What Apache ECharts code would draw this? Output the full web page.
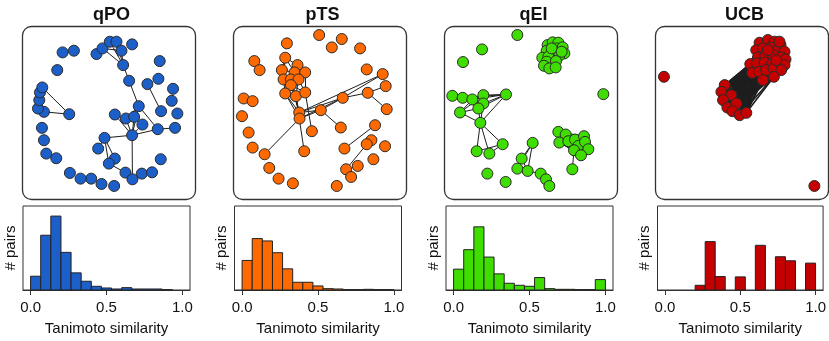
<!DOCTYPE html>
<html>
<head>
<meta charset="utf-8">
<title>Tanimoto similarity networks</title>
<script src="https://cdn.jsdelivr.net/npm/echarts@6/dist/echarts.min.js"></script>
</head>
<body style="margin:0">
<div id="main" style="width:829px;height:341px;"></div>
<script>
// panel names and colours
var methods = ['qPO', 'pTS', 'qEI', 'UCB'];
var colors = ['#1c5fc8', '#ff6a00', '#3fdd00', '#c40000'];

// histogram: 15 bins over [0, 1], counts in arbitrary units (no y ticks)
var binEdges = [0, 1/15, 2/15, 3/15, 4/15, 5/15, 6/15, 7/15, 8/15, 9/15, 10/15, 11/15, 12/15, 13/15, 14/15, 1];
var countsQPO = [41, 163, 220, 112, 51, 26, 11, 6, 3, 7, 3, 3, 3, 1, 0];
var countsPTS = [88, 153, 146, 111, 63, 23, 23, 12, 4, 3, 1, 1, 2, 1, 1];
var countsQEI = [62, 120, 188, 98, 48, 20, 14, 11, 37, 4, 2, 2, 1, 1, 31];
var countsUCB = [0, 0, 0, 14, 144, 40, 0, 39, 0, 133, 0, 99, 87, 0, 80];
var xTicks = [0, 0.5, 1];

// network layouts (node positions in layout units, edges 1-based)
var nodesQPO = [[188,157],[222,152],[172,210],[290,162],[308,145],[330,125],[350,125],[365,152],[397,133],[370,195],
  [388,242],[480,183],[476,236],[443,252],[520,266],[516,302],[533,340],[484,333],[417,318],[345,343],
  [378,355],[403,350],[428,373],[474,387],[526,383],[397,405],[314,413],[295,445],[345,475],[327,490],
  [483,477],[377,517],[398,537],[426,520],[457,516],[343,557],[305,551],[274,535],[242,535],[210,518],
  [169,474],[139,460],[132,420],[126,383],[208,342],[132,335],[114,325],[118,300],[120,277],[127,262]];
var edgesQPO = [[5,10],[5,8],[6,8],[7,8],[6,10],[7,10],[8,10],[10,11],[11,19],[26,19],[26,20],[26,21],[26,22],
  [26,23],[26,24],[26,27],[26,33],[19,24],[19,21],[24,25],[14,18],[27,28],[27,29],[27,30],[29,30],[30,32],
  [50,45],[46,45],[50,47]];
var cliquesQPO = [];

var nodesPTS = [[327,105],[395,117],[365,142],[450,145],[230,130],[132,183],[148,210],[225,173],[262,195],[215,210],
  [253,217],[285,217],[220,238],[242,238],[265,238],[242,255],[225,280],[257,288],[285,277],[470,208],
  [518,222],[527,258],[473,278],[398,293],[530,327],[100,295],[127,303],[95,348],[267,337],[268,355],
  [332,330],[305,393],[392,382],[495,375],[115,397],[484,420],[470,432],[525,438],[403,445],[127,442],
  [163,462],[282,453],[490,477],[443,497],[408,507],[423,530],[177,503],[205,535],[248,549],[380,557]];
var edgesPTS = [[8,9],[8,10],[8,11],[8,13],[9,11],[9,12],[9,14],[10,13],[10,11],[11,12],[11,14],[11,15],[12,15],
  [12,19],[13,14],[13,16],[13,17],[14,15],[14,16],[15,16],[15,18],[16,17],[16,18],[17,18],[18,19],[15,19],
  [16,19],[9,15],[10,16],[14,18],[17,29],[18,29],[16,29],[17,30],[18,30],[19,32],[18,42],[29,24],[30,24],
  [29,31],[30,31],[29,21],[31,24],[24,21],[24,23],[23,22],[23,25],[31,33],[30,41],[34,39],[37,45]];
var cliquesPTS = [];

var nodesQEI = [[292,105],[186,148],[129,186],[550,282],
  [383,135],[398,127],[415,128],[410,145],[428,142],[380,152],[398,160],[433,160],[367,173],[385,170],
  [418,167],[380,185],[408,183],[372,197],[388,205],[407,202],[395,145],[425,155],
  [97,287],[128,293],[157,298],[190,285],[258,283],[190,310],[175,325],[120,337],[181,368],[170,453],
  [208,460],[248,432],
  [338,428],[305,475],[292,505],[323,512],[362,520],[378,537],[388,557],
  [415,395],[437,403],[418,427],[445,423],[465,418],[492,408],[475,437],[495,425],[505,447],[462,450],
  [483,465],[457,507],
  [202,520],[257,545]];
var edgesQEI = [[23,24],[24,25],[25,26],[26,27],[24,27],[25,27],[28,27],[29,27],[24,29],[25,29],[30,26],[30,25],
  [30,29],[30,31],[29,31],[28,31],[27,31],[31,32],[31,33],[31,34],[32,34],[33,34],[25,28],[26,28],[24,28],
  [35,36],[35,37],[35,38],[36,37],[36,38],[37,38],[38,39],[39,40],[40,41],[51,53]];
var cliquesQEI = [[5,22],[42,52]];

var nodesUCB = [[132,230],[585,557],
  [420,128],[445,120],[465,125],[483,135],[410,150],[430,145],[455,143],[475,150],[495,155],[415,172],
  [437,168],[460,165],[485,172],[498,178],[392,192],[412,190],[435,188],[458,190],[480,195],[495,195],
  [398,218],[418,215],[440,210],[462,205],[485,210],[430,240],[463,230],[480,125],[445,150],[470,180],
  [315,255],[305,275],[335,285],[310,300],[323,322],[350,310],[338,333],[360,345],[380,338]];
var edgesUCB = [];
var cliquesUCB = [[3,32],[33,41]];
var bridgeUCB = {from: [33,34,35,36,37,38,39,40,41], to: [12,17,18,19,23,24,25,28,29]};

var layoutRanges = [[60,580],[62,582],[66,585],[99,620]];

// ---------- build ----------
function buildLinks(edges, cliques, bridge) {
  var links = [];
  edges.forEach(function (e) { links.push({source: e[0]-1, target: e[1]-1}); });
  cliques.forEach(function (c) {
    for (var a = c[0]; a <= c[1]; a++)
      for (var b = a+1; b <= c[1]; b++) links.push({source: a-1, target: b-1});
  });
  if (bridge) {
    bridge.from.forEach(function (a) {
      bridge.to.forEach(function (b) { links.push({source: a-1, target: b-1}); });
    });
  }
  return links;
}

var networks = [
  {nodes: nodesQPO, links: buildLinks(edgesQPO, cliquesQPO)},
  {nodes: nodesPTS, links: buildLinks(edgesPTS, cliquesPTS)},
  {nodes: nodesQEI, links: buildLinks(edgesQEI, cliquesQEI)},
  {nodes: nodesUCB, links: buildLinks(edgesUCB, cliquesUCB, bridgeUCB)}
];
var counts = [countsQPO, countsPTS, countsQEI, countsUCB];

var font = 'Liberation Sans, Arial, sans-serif';
var grid = [], xAxis = [], yAxis = [], series = [], titles = [], graphics = [];

methods.forEach(function (m, i) {
  var netLeft = 20 + i*211;
  var histLeft = 23 + i*211.5;

  titles.push({
    text: m, left: netLeft + 86.5, top: 1, textAlign: 'center',
    textStyle: {fontSize: 18, fontWeight: 'bold', fontFamily: font, color: '#111'}
  });

  // network panel
  grid.push({left: netLeft, top: 24, width: 173, height: 173});
  xAxis.push({type: 'value', gridIndex: 2*i, min: layoutRanges[i][0], max: layoutRanges[i][1], show: false});
  yAxis.push({type: 'value', gridIndex: 2*i, min: 72, max: 590, inverse: true, show: false});
  graphics.push({
    type: 'rect', left: netLeft, top: 24, z: 1,
    shape: {width: 173, height: 173, r: 9},
    style: {fill: 'none', stroke: '#333', lineWidth: 1.3}
  });
  series.push({
    type: 'graph', coordinateSystem: 'cartesian2d', xAxisIndex: 2*i, yAxisIndex: 2*i,
    symbol: 'circle', symbolSize: 11,
    itemStyle: {color: colors[i], borderColor: '#2b2b2b', borderWidth: 1},
    lineStyle: {color: '#1e1e1e', width: i === 3 ? 1.6 : 1, opacity: 1, curveness: 0},
    emphasis: {disabled: true},
    silent: true,
    data: networks[i].nodes.map(function (p) { return {value: p}; }),
    links: networks[i].links
  });

  // histogram panel
  grid.push({left: histLeft, top: 206, width: 167, height: 84, show: true,
    borderColor: '#333', borderWidth: 1, backgroundColor: 'transparent'});
  xAxis.push({
    type: 'value', gridIndex: 2*i+1, min: -0.05, max: 1.05,
    name: 'Tanimoto similarity', nameLocation: 'middle', nameGap: 31,
    nameTextStyle: {fontSize: 15, fontFamily: font, color: '#111'},
    axisLine: {show: true, lineStyle: {color: '#333', width: 1}},
    axisTick: {show: true, length: 5, customValues: xTicks, lineStyle: {color: '#333'}},
    axisLabel: {customValues: xTicks, fontSize: 15, fontFamily: font, color: '#111', margin: 10,
      formatter: function (v) { return v.toFixed(1); }},
    splitLine: {show: false}
  });
  yAxis.push({
    type: 'value', gridIndex: 2*i+1, min: 0, max: 250,
    name: '# pairs', nameLocation: 'middle', nameGap: 5,
    nameTextStyle: {fontSize: 15, fontFamily: font, color: '#111'},
    axisLine: {show: false}, axisTick: {show: false}, axisLabel: {show: false}, splitLine: {show: false}
  });
  var histData = [];
  counts[i].forEach(function (c, k) {
    if (c > 0) histData.push([binEdges[k], binEdges[k+1], c]);
  });
  series.push({
    type: 'custom', xAxisIndex: 2*i+1, yAxisIndex: 2*i+1, silent: true,
    encode: {x: [0, 1], y: 2},
    data: histData,
    renderItem: (function (col) {
      return function (params, api) {
        var p0 = api.coord([api.value(0), api.value(2)]);
        var p1 = api.coord([api.value(1), 0]);
        return {
          type: 'rect',
          shape: {x: p0[0], y: p0[1], width: p1[0]-p0[0], height: p1[1]-p0[1]},
          style: {fill: col, stroke: '#222', lineWidth: 1}
        };
      };
    })(colors[i])
  });
});

var chart = echarts.init(document.getElementById('main'));
chart.setOption({
  backgroundColor: '#fff',
  animation: false,
  title: titles,
  grid: grid,
  xAxis: xAxis,
  yAxis: yAxis,
  graphic: graphics,
  series: series
});
</script>
</body>
</html>
